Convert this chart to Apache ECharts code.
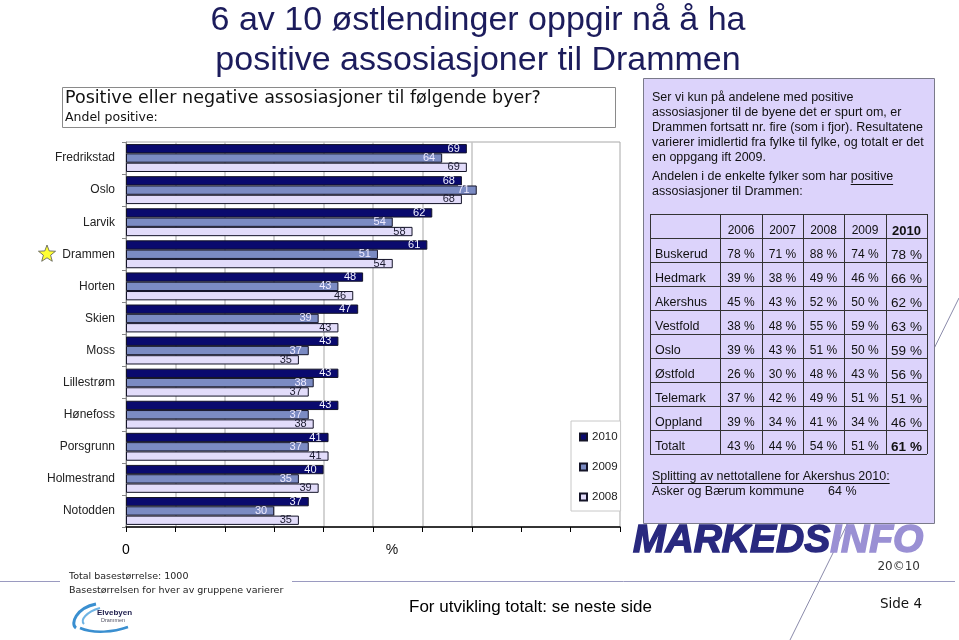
<!DOCTYPE html>
<html><head><meta charset="utf-8">
<script src="https://cdn.jsdelivr.net/npm/echarts@6/dist/echarts.min.js"></script>
<style>html,body{margin:0;padding:0;background:#fff}#c{width:959px;height:640px}</style>
</head><body><div id="c"></div>
<script>
// ---- chart data ----
const cities = ['Fredrikstad','Oslo','Larvik','Drammen','Horten','Skien','Moss','Lillestrøm','Hønefoss','Porsgrunn','Holmestrand','Notodden'];
const v2010 = [69,68,62,61,48,47,43,43,43,41,40,37];
const v2009 = [64,71,54,51,43,39,37,38,37,37,35,30];
const v2008 = [69,68,58,54,46,43,35,37,38,41,39,35];
const seriesNames = ['2010','2009','2008'];
// ---- table data ----
const tableYears = ['2006','2007','2008','2009','2010'];
const tableRegions = ['Buskerud','Hedmark','Akershus','Vestfold','Oslo','Østfold','Telemark','Oppland','Totalt'];
const tableRows = [
  [78,71,88,74,78],[39,38,49,46,66],[45,43,52,50,62],[38,48,55,59,63],[39,43,51,50,59],
  [26,30,48,43,56],[37,42,49,51,51],[39,34,41,34,46],[43,44,54,51,61]
];
const paragraph = [
  'Ser vi kun på andelene med positive',
  'assosiasjoner til de byene det er spurt om, er',
  'Drammen fortsatt nr. fire (som i fjor). Resultatene',
  'varierer imidlertid fra fylke til fylke, og totalt er det',
  'en oppgang ift 2009.'
];

const chart = echarts.init(document.getElementById('c'), null, {renderer:'canvas'});
const AR = 'Liberation Sans, Arial, sans-serif';
const LU = 'DejaVu Sans, Verdana, sans-serif';
const mctx = document.createElement('canvas').getContext('2d');
function tw(text, size, fam, weight){ mctx.font = (weight||'normal') + ' ' + size + 'px ' + fam; return mctx.measureText(text).width; }

const g = [];
function txt(x, y, text, size, opts){
  opts = opts || {};
  g.push({type:'text', x:x, y:y, z: opts.z || 10, style:{text:text, fontSize:size, fontFamily:opts.fam||AR,
    fontWeight:opts.weight||'normal', fontStyle:opts.italic?'italic':'normal', fill:opts.fill||'#000',
    align:opts.align||'left', verticalAlign:'middle', stroke:opts.stroke, lineWidth:opts.lw||0}});
}
function line(x1,y1,x2,y2,color,w,z){ g.push({type:'line', z:z||10, shape:{x1:x1,y1:y1,x2:x2,y2:y2}, style:{stroke:color, lineWidth:w||1}}); }

// title
txt(478, 21, '6 av 10 østlendinger oppgir nå å ha', 34, {fill:'#1c1c5c', align:'center'});
txt(478, 61, 'positive assosiasjoner til Drammen', 34, {fill:'#1c1c5c', align:'center'});
// subtitle box
g.push({type:'rect', z:5, shape:{x:62.5, y:87.5, width:553, height:40}, style:{fill:'#fff', stroke:'#8a8a8a', lineWidth:1}});
txt(65, 98, 'Positive eller negative assosiasjoner til følgende byer?', 17.5, {fam:LU, fill:'#111'});
txt(65, 118, 'Andel positive:', 12.5, {fam:LU, fill:'#111'});

// diagonal decorative line (behind box)
line(959, 298, 790, 640, '#8a8aaa', 1, 1);
// purple box
g.push({type:'rect', z:3, shape:{x:643.5, y:78.5, width:291, height:445}, style:{fill:'#dcd3fb', stroke:'#7a7a8a', lineWidth:1}});
paragraph.forEach((t,i)=> txt(652, 98 + 15*i, t, 12.5, {fill:'#111'}));
const p6a = 'Andelen i de enkelte fylker som har ';
txt(652, 177, p6a, 12.5, {fill:'#111'});
const px = 652 + tw(p6a, 12.5, AR);
txt(px, 177, 'positive', 12.5, {fill:'#111'});
line(px, 184.5, px + tw('positive', 12.5, AR), 184.5, '#111', 1);
txt(652, 192, 'assosiasjoner til Drammen:', 12.5, {fill:'#111'});

// table
const tX = [650, 720, 762, 803, 844, 886, 927];
const tTop = 214, rowH = 24, nRows = tableRegions.length + 1;
for (let i=0;i<=nRows;i++){ const y = tTop + rowH*i + 0.5; line(tX[0], y, tX[6], y, '#333', 1); }
tX.forEach(x=> line(x+0.5, tTop, x+0.5, tTop+rowH*nRows, '#333', 1));
tableYears.forEach((yr,j)=>{
  const cx = (tX[j+1]+tX[j+2])/2;
  txt(cx, tTop+17, yr, j===4?13:12, {align:'center', fill:'#111', weight: j===4?'bold':'normal'});
});
tableRegions.forEach((r,i)=>{
  const y = tTop + rowH*(i+1) + 17;
  txt(655, y, r, 12.5, {fill:'#111'});
  tableRows[i].forEach((v,j)=>{
    const cx = (tX[j+1]+tX[j+2])/2;
    const last = j===4;
    txt(cx, y, v + ' %', last?13.5:12, {align:'center', fill:'#111', weight:(last && r==='Totalt')?'bold':'normal'});
  });
});
const sp = 'Splitting av nettotallene for Akershus 2010:';
txt(652, 477, sp, 12.5, {fill:'#111'});
line(652, 483.5, 652 + tw(sp, 12.5, AR), 483.5, '#111', 1);
txt(652, 492, 'Asker og Bærum kommune', 12.5, {fill:'#111'});
txt(828, 492, '64 %', 12.5, {fill:'#111'});

// logo
txt(633, 541, 'MARKEDS', 39, {weight:'bold', italic:true, fill:'#29297f', stroke:'#29297f', lw:1.5});
const mw = tw('MARKEDS', 39, AR, 'italic bold');
txt(633 + mw, 541, 'INFO', 39, {weight:'bold', italic:true, fill:'#9a90d4', stroke:'#9a90d4', lw:1.5});
txt(920, 567, '20©10', 12, {fam:LU, fill:'#333', align:'right'});

// footer
line(0, 581.5, 60, 581.5, '#9a9ac0', 1);
line(292, 581.5, 955, 581.5, '#9a9ac0', 1);
txt(69, 577, 'Total basestørrelse: 1000', 9.5, {fam:LU, fill:'#222'});
txt(69, 591, 'Basestørrelsen for hver av gruppene varierer', 9.5, {fam:LU, fill:'#222'});
txt(409, 607, 'For utvikling totalt: se neste side', 17, {fill:'#000'});
txt(922, 604, 'Side 4', 13.5, {fam:LU, fill:'#111', align:'right'});

// Elvebyen logo
g.push({type:'bezierCurve', z:10, shape:{x1:96, y1:604, x2:76, y2:628, cpx1:76, cpy1:608, cpx2:70, cpy2:624}, style:{stroke:'#3a8fd0', lineWidth:3, fill:null}});
g.push({type:'bezierCurve', z:10, shape:{x1:80, y1:628, x2:128, y2:627, cpx1:94, cpy1:634, cpx2:114, cpy2:632}, style:{stroke:'#3a8fd0', lineWidth:2.5, fill:null}});
g.push({type:'bezierCurve', z:10, shape:{x1:100, y1:608, x2:84, y2:624, cpx1:86, cpy1:612, cpx2:80, cpy2:620}, style:{stroke:'#6fb4e4', lineWidth:2, fill:null}});
txt(97, 613, 'Elvebyen', 8, {weight:'bold', fill:'#1a1a4a'});
txt(101, 620, 'Drammen', 5.5, {fill:'#556'});

// star next to Drammen
const starPts = [];
for (let k=0;k<10;k++){ const r = k%2===0 ? 9 : 3.8; const a = -Math.PI/2 + k*Math.PI/5; starPts.push([47 + r*Math.cos(a), 254 + r*Math.sin(a)]); }
g.push({type:'polygon', z:10, shape:{points:starPts}, style:{fill:'#ffff33', stroke:'#555', lineWidth:0.8}});

// axis name
txt(392, 550, '%', 14, {fill:'#111', align:'center'});

const gridColors = ['rgba(0,0,0,0)'];
for (let k=1;k<=7;k++) gridColors.push('#c4c4c4');
for (let k=8;k<=10;k++) gridColors.push('rgba(0,0,0,0)');

function barSeries(name, data, color, labelColor){
  return {name:name, type:'bar', data:data, barGap:'0%', barCategoryGap:'13%',
    itemStyle:{color:color, borderColor:'#141428', borderWidth:1},
    label:{show:true, position:'insideRight', distance:7, fontSize:11, fontFamily:AR, color:labelColor}};
}

chart.setOption({
  animation:false,
  backgroundColor:'#fff',
  grid:{left:126, right:339, top:142, bottom:113, show:true, borderColor:'#a8a8a8', borderWidth:1, backgroundColor:'rgba(0,0,0,0)'},
  xAxis:{type:'value', min:0, max:100, interval:10,
    axisLine:{show:true, lineStyle:{color:'#000', width:1.5}},
    axisTick:{show:true, length:5, lineStyle:{color:'#000'}},
    axisLabel:{formatter:v=> v===0 ? '0' : '', fontSize:14, fontFamily:AR, color:'#000', margin:16},
    splitLine:{show:true, lineStyle:{color:gridColors, width:1.5}}},
  yAxis:{type:'category', data:cities, inverse:true,
    axisLine:{show:true, lineStyle:{color:'#888'}},
    axisTick:{show:true, length:4, lineStyle:{color:'#888'}},
    axisLabel:{fontSize:12, fontFamily:AR, color:'#222', margin:11}},
  legend:{data:seriesNames, orient:'vertical', left:571, top:421, icon:'rect', itemWidth:7, itemHeight:7, itemGap:18,
    backgroundColor:'#fff', borderColor:'#c8c8c8', borderWidth:1, padding:[10,3,8,8],
    textStyle:{fontSize:11.5, fontFamily:AR, color:'#222'}},
  series:[
    barSeries('2010', v2010, '#0a0a6e', '#f2f2ff'),
    barSeries('2009', v2009, '#7b8bc3', '#eeeaff'),
    barSeries('2008', v2008, '#e2dcfa', '#1a1a2e')
  ],
  graphic:{elements:g}
});
</script></body></html>
